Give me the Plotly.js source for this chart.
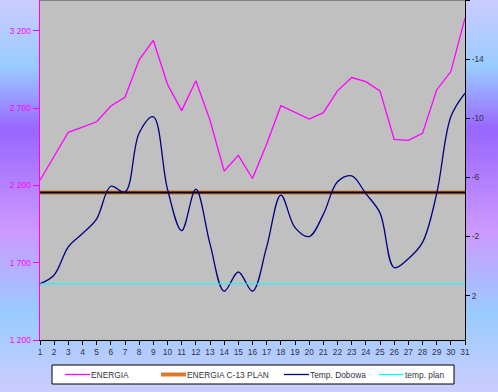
<!DOCTYPE html>
<html>
<head>
<meta charset="utf-8">
<script src="https://cdn.plot.ly/plotly-3.0.1.min.js"></script>
<style>
html,body{margin:0;padding:0;}
body{width:498px;height:392px;background:linear-gradient(to bottom,#ccccff 0%,#99ccff 17%,#9966ff 33%,#cc99ff 59%,#99ccff 80%,#ccccff 100%);}
#chart{width:498px;height:392px;}
</style>
</head>
<body>
<div id="chart"></div>
<script>
var days = [1,2,3,4,5,6,7,8,9,10,11,12,13,14,15,16,17,18,19,20,21,22,23,24,25,26,27,28,29,30,31];
var energia = [2234,2390,2544,2578,2612,2714,2771,3013,3138,2855,2684,2878,2623,2293,2395,2245,2468,2716,2675,2630,2671,2812,2898,2872,2812,2498,2492,2537,2818,2937,3283];
var energiaPlan = [2155,2155,2155,2155,2155,2155,2155,2155,2155,2155,2155,2155,2155,2155,2155,2155,2155,2155,2155,2155,2155,2155,2155,2155,2155,2155,2155,2155,2155,2155,2155];
var tempDobowa = [1.2,0.6,-1.3,-2.2,-3.2,-5.4,-5.0,-9.0,-10.1,-5.2,-2.4,-5.2,-1.5,1.7,0.4,1.7,-1.3,-4.8,-2.6,-2.0,-3.5,-5.7,-6.1,-4.9,-3.6,0.1,-0.5,-1.6,-4.9,-10.1,-11.7];
var tempPlan = [1.2,1.2,1.2,1.2,1.2,1.2,1.2,1.2,1.2,1.2,1.2,1.2,1.2,1.2,1.2,1.2,1.2,1.2,1.2,1.2,1.2,1.2,1.2,1.2,1.2,1.2,1.2,1.2,1.2,1.2,1.2];
var leftTickVals = [1200,1700,2200,2700,3200];
var leftTickText = ['1 200','1 700','2 200','2 700','3 200'];
var rightTickVals = [-18,-14,-10,-6,-2,2];
var rightTickText = ['-18','-14','-10','-6','-2','2'];
var seriesNames = ['ENERGIA','ENERGIA C-13 PLAN','Temp. Dobowa','temp. plan'];
var seriesColors = ['#ff00ff','#d97a2e','#000080','#00ffff'];

var FS = 8.4;

var traces = [
  {x: days, y: energia, name: seriesNames[0], type: 'scatter', mode: 'lines', yaxis: 'y',
   line: {color: seriesColors[0], width: 1.3}},
  {x: days, y: energiaPlan, name: seriesNames[1], type: 'scatter', mode: 'lines', yaxis: 'y',
   line: {color: seriesColors[1], width: 4}},
  {x: days, y: energiaPlan, name: 'plan-core', hoverinfo: 'skip', type: 'scatter', mode: 'lines', yaxis: 'y',
   line: {color: '#000000', width: 2}},
  {x: days, y: tempDobowa, name: seriesNames[2], type: 'scatter', mode: 'lines', yaxis: 'y2',
   line: {color: seriesColors[2], width: 1.3, shape: 'spline', smoothing: 1}},
  {x: days, y: tempPlan, name: seriesNames[3], type: 'scatter', mode: 'lines', yaxis: 'y2',
   line: {color: seriesColors[3], width: 1}}
];

// plot area in pixels: x 40..465, y 0..340
var PL = 40, PW = 425, PH = 340;
function fx(px){ return (px - PL) / PW; }
function fy(py){ return (PH - py) / PH; }

var shapes = [
  {type: 'line', xref: 'paper', yref: 'paper', x0: 0, x1: 1, y0: 1, y1: 1, line: {color: '#808080', width: 2}},
  {type: 'rect', xref: 'paper', yref: 'paper', x0: fx(52), x1: fx(454), y0: fy(365), y1: fy(384),
   fillcolor: '#ffffff', line: {color: '#000000', width: 1}}
];
var annotations = [];
var legStart = [65, 161, 284, 379];
var legWidths = [1.3, 4, 1.3, 1.3];
for (var i = 0; i < seriesNames.length; i++) {
  shapes.push({type: 'line', xref: 'paper', yref: 'paper', x0: fx(legStart[i]), x1: fx(legStart[i] + 25),
    y0: fy(374.5), y1: fy(374.5), line: {color: seriesColors[i], width: legWidths[i]}});
  annotations.push({xref: 'paper', yref: 'paper', x: fx(legStart[i] + 25), y: fy(374.5), xanchor: 'left', yanchor: 'middle',
    text: seriesNames[i], showarrow: false, font: {size: FS, color: '#333344'}, borderpad: 0});
}

var layout = {
  width: 498, height: 392,
  margin: {l: 40, r: 33, t: 0, b: 52},
  paper_bgcolor: 'rgba(0,0,0,0)',
  plot_bgcolor: '#c0c0c0',
  font: {family: 'Arial, Liberation Sans, sans-serif', size: FS, color: '#333344'},
  showlegend: false,
  xaxis: {range: [1, 31], tickvals: days, ticks: 'outside', ticklen: 4, tickcolor: '#000',
    showline: true, linecolor: '#000', linewidth: 1, showgrid: false, zeroline: false,
    tickfont: {size: FS, color: '#333344'}, fixedrange: true},
  yaxis: {range: [1200, 3400], tickvals: leftTickVals, ticktext: leftTickText, ticks: 'outside',
    ticklen: 6, tickcolor: '#ff00ff', showline: true, linecolor: '#ff00ff', linewidth: 1.5,
    showgrid: false, zeroline: false, tickfont: {size: FS, color: '#ff00ff'}},
  yaxis2: {overlaying: 'y', side: 'right', range: [5, -18], tickvals: rightTickVals, ticktext: rightTickText,
    ticks: 'outside', ticklen: 4, tickcolor: '#000', showline: true, linecolor: '#000', linewidth: 1,
    showgrid: false, zeroline: false, tickfont: {size: FS, color: '#333344'}},
  shapes: shapes,
  annotations: annotations
};

Plotly.newPlot('chart', traces, layout, {displayModeBar: false, staticPlot: true});
</script>
</body>
</html>
